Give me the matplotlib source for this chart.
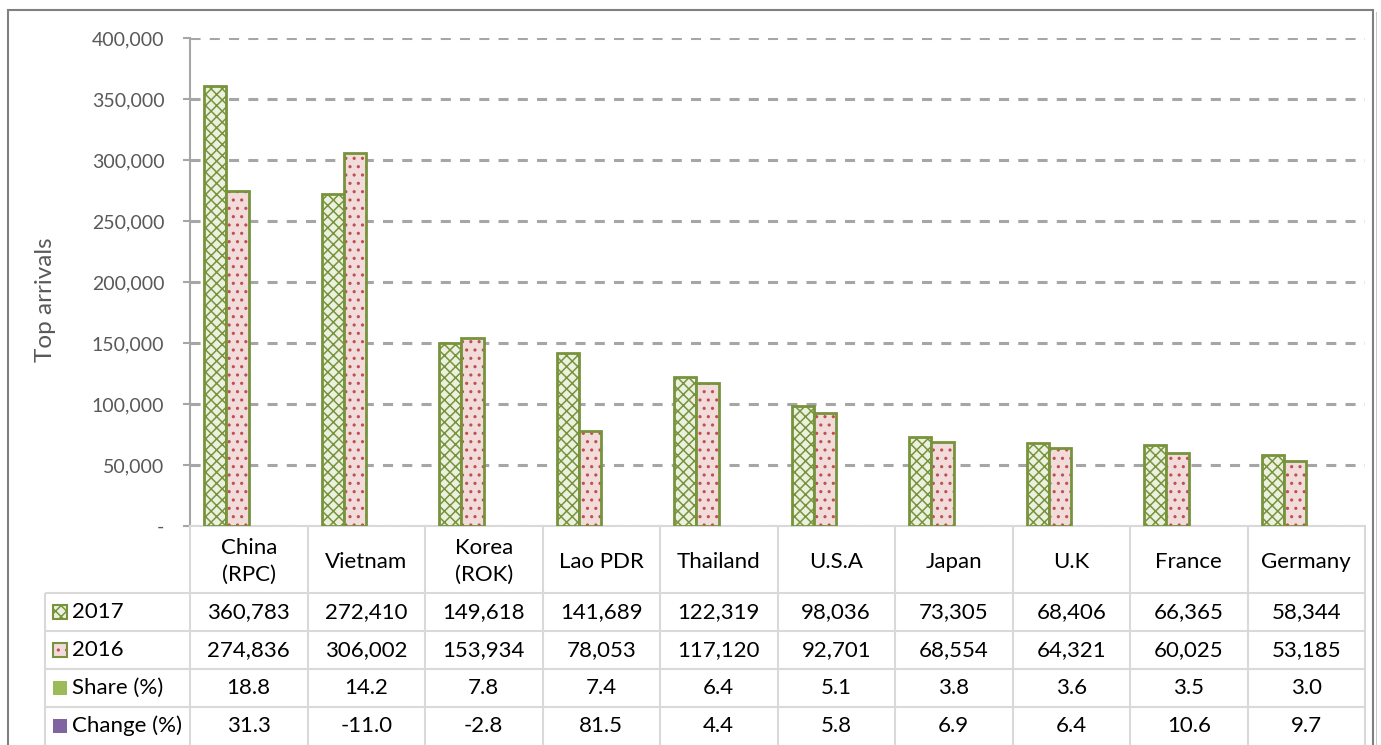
import matplotlib
matplotlib.use("Agg")
import matplotlib.pyplot as plt
from matplotlib.patches import Rectangle
from matplotlib.ticker import FuncFormatter, MultipleLocator
import numpy as np

plt.rcParams['font.family'] = ['Lato', 'DejaVu Sans']
plt.rcParams['hatch.linewidth'] = 1.1

countries = ["China\n(RPC)", "Vietnam", "Korea\n(ROK)", "Lao PDR", "Thailand",
             "U.S.A", "Japan", "U.K", "France", "Germany"]
arr_2017 = [360783, 272410, 149618, 141689, 122319, 98036, 73305, 68406, 66365, 58344]
arr_2016 = [274836, 306002, 153934, 78053, 117120, 92701, 68554, 64321, 60025, 53185]
share = [18.8, 14.2, 7.8, 7.4, 6.4, 5.1, 3.8, 3.6, 3.5, 3.0]
change = [31.3, -11.0, -2.8, 81.5, 4.4, 5.8, 6.9, 6.4, 10.6, 9.7]
series_names = ["2017", "2016", "Share (%)", "Change (%)"]

W, H = 1381, 745
fig = plt.figure(figsize=(W / 100, H / 100), dpi=100)

GREEN_EDGE = "#77933C"
GREEN_FACE = "#EBF1DE"
PINK_FACE = "#F2DCDB"
RED_DOT = "#C0504D"
SHARE_C = "#9BBB59"
CHANGE_C = "#8064A2"
GRID_C = "#A6A6A6"
TABLE_C = "#D9D9D9"
TXT_GREY = "#595959"

# main axes
ax = fig.add_axes([190 / W, (H - 526) / H, (1365 - 190) / W, (526 - 38) / H])
x = np.arange(len(countries))
bw = 0.19
offs = np.array([-1.5, -0.5, 0.5, 1.5]) * bw

ax.bar(x + offs[0], arr_2017, bw, facecolor=GREEN_FACE, edgecolor=GREEN_EDGE,
       hatch="xxx", linewidth=2, zorder=3)
ax.bar(x + offs[1], arr_2016, bw, facecolor=PINK_FACE, edgecolor=RED_DOT,
       hatch="..", linewidth=0, zorder=3)
ax.bar(x + offs[1], arr_2016, bw, facecolor="none", edgecolor=GREEN_EDGE,
       linewidth=2, zorder=4)
ax.bar(x + offs[2], share, bw, color=SHARE_C, linewidth=0, zorder=3)
ax.bar(x + offs[3], change, bw, color=CHANGE_C, linewidth=0, zorder=3)

ax.set_xlim(-0.5, len(countries) - 0.5)
ax.set_ylim(0, 400000)
ax.yaxis.set_major_locator(MultipleLocator(50000))
ax.yaxis.set_major_formatter(FuncFormatter(lambda v, p: "-" if v == 0 else f"{int(v):,}"))
ax.set_xticks([])
ax.tick_params(axis="y", colors=GRID_C, labelcolor=TXT_GREY, labelsize=14,
               length=5, width=1.5, pad=13.5)
ax.yaxis.grid(True, color=GRID_C, linewidth=2.2, linestyle=(0, (3.3, 3.0)), zorder=0)
ax.set_axisbelow(True)
for s in ["top", "right"]:
    ax.spines[s].set_visible(False)
ax.spines["left"].set_color(GRID_C)
ax.spines["left"].set_linewidth(1.5)
ax.spines["bottom"].set_color(TABLE_C)
ax.spines["bottom"].set_linewidth(1.5)

fig.text(45 / W, (H - 300) / H, "Top arrivals", rotation=90, ha="center", va="center",
         fontsize=17.5, color=TXT_GREY)

# table axes (x in same column units as main axes, y in pixels)
tx0 = 45
ta = fig.add_axes([tx0 / W, 0, (1365 - tx0) / W, (745 - 526) / H])
xl = -0.5 - (190 - tx0) / 117.5
ta.set_xlim(xl, len(countries) - 0.5)
ta.set_ylim(745, 526)
ta.axis("off")

row_edges = [526, 593, 631, 669, 707, 745]
lc = dict(color=TABLE_C, linewidth=1.5, solid_capstyle="butt")
for k in range(len(countries) + 1):
    ta.plot([k - 0.5, k - 0.5], [526, 745], clip_on=False, **lc)
ta.plot([xl, xl], [593, 745], clip_on=False, **lc)
for yy in row_edges[1:-1]:
    ta.plot([xl, len(countries) - 0.5], [yy, yy], **lc)

for i, c in enumerate(countries):
    ta.text(i, (526 + 593) / 2 + 2, c, ha="center", va="center", fontsize=16,
            linespacing=1.45, color="black")

rows = [[f"{v:,}" for v in arr_2017], [f"{v:,}" for v in arr_2016],
        [f"{v:.1f}" for v in share], [f"{v:.1f}" for v in change]]
for r, vals in enumerate(rows):
    yc = (row_edges[r + 1] + row_edges[r + 2]) / 2
    for i, v in enumerate(vals):
        ta.text(i, yc, v, ha="center", va="center", fontsize=16, color="black")
    ta.text(xl + (72 - tx0) / 117.5, yc, series_names[r], ha="left", va="center",
            fontsize=16, color="black")

kw = 14 / 117.5
kx = xl + (53 - tx0) / 117.5
key_styles = [
    dict(facecolor=GREEN_FACE, edgecolor=GREEN_EDGE, hatch="xxx", linewidth=1.5),
    dict(facecolor=PINK_FACE, edgecolor=RED_DOT, hatch="..", linewidth=0),
    dict(facecolor=SHARE_C, edgecolor="none"),
    dict(facecolor=CHANGE_C, edgecolor="none"),
]
for r, st in enumerate(key_styles):
    yc = (row_edges[r + 1] + row_edges[r + 2]) / 2
    ta.add_patch(Rectangle((kx, yc - 7), kw, 14, **st))
    if r == 1:
        ta.add_patch(Rectangle((kx, yc - 7), kw, 14, facecolor="none",
                               edgecolor=GREEN_EDGE, linewidth=1.5))

fig.patches.append(Rectangle((8 / W, -0.05), (1373 - 8) / W, (H - 10) / H + 0.05,
                             transform=fig.transFigure, facecolor="none",
                             edgecolor="#808080", linewidth=1.5))
fig.patches.append(Rectangle((1375.5 / W, -0.05), 0.001, (H - 12) / H + 0.05,
                             transform=fig.transFigure, facecolor="#C8C8C8",
                             edgecolor="none"))

fig.savefig("out.png", dpi=100)
